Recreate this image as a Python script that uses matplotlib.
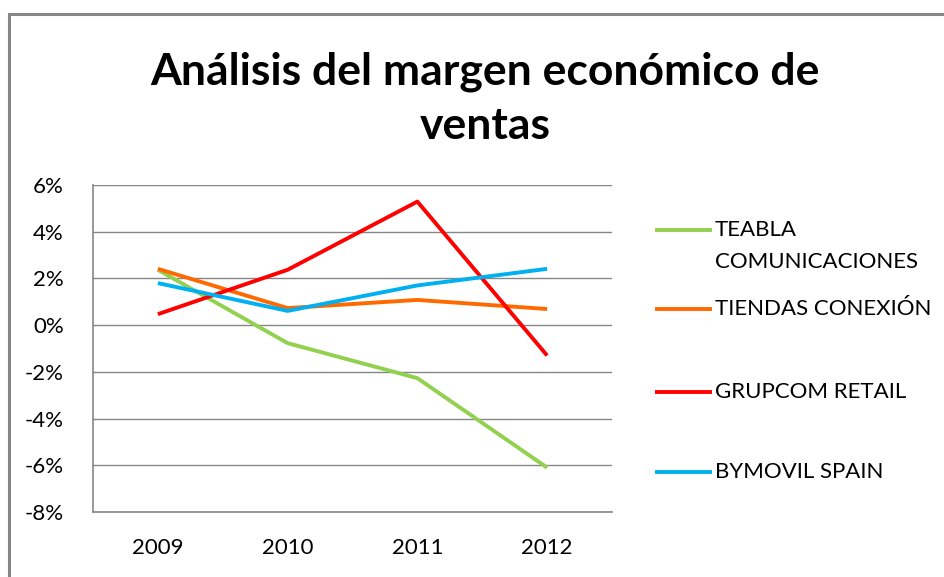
import matplotlib
matplotlib.use("Agg")
import matplotlib.pyplot as plt
from matplotlib.lines import Line2D
from matplotlib.patches import Rectangle
from matplotlib.ticker import FuncFormatter, MultipleLocator

years = ["2009", "2010", "2011", "2012"]
series_names = ["TEABLA\nCOMUNICACIONES", "TIENDAS CONEXIÓN", "GRUPCOM RETAIL", "BYMOVIL SPAIN"]
teabla = [2.37, -0.77, -2.27, -6.10]
tiendas = [2.41, 0.73, 1.08, 0.69]
grupcom = [0.47, 2.37, 5.29, -1.30]
bymovil = [1.80, 0.61, 1.70, 2.41]
colors = ["#92D050", "#FF6A00", "#FF0000", "#00B0F0"]

plt.rcParams['font.family'] = ['Lato', 'DejaVu Sans']

W, H = 944, 577
fig = plt.figure(figsize=(W/100, H/100), dpi=100)
fig.patch.set_facecolor("white")

# outer chart border
fig.add_artist(Rectangle((9/W, -0.02), 1.0, 1 - 14/H + 0.02, transform=fig.transFigure,
                         fill=False, edgecolor="#868686", linewidth=2.2))

ax = fig.add_axes([93/W, 1 - 512/H, 519/W, (512 - 185)/H])
x = list(range(len(years)))
for vals, c in zip([teabla, tiendas, grupcom, bymovil], colors):
    ax.plot(x, vals, color=c, linewidth=2.8, solid_capstyle="butt")

ax.set_xlim(-0.5, 3.5)
ax.set_ylim(-8, 6)
ax.yaxis.set_major_locator(MultipleLocator(2))
ax.yaxis.set_major_formatter(FuncFormatter(lambda v, p: f"{int(round(v))}%"))
ax.set_xticks(x)
ax.set_xticklabels(years)
ax.grid(axis="y", color="#868686", linewidth=1)
ax.set_axisbelow(True)
for s in ["top", "right"]:
    ax.spines[s].set_visible(False)
for s in ["left", "bottom"]:
    ax.spines[s].set_color("#868686")
    ax.spines[s].set_linewidth(1.2)
ax.tick_params(axis="both", length=0, labelsize=16, colors="black")
ax.tick_params(axis="y", pad=21)
ax.tick_params(axis="x", pad=19)

title_lines = ["Análisis del margen económico de", "ventas"]
for ln, base in zip(title_lines, [84, 139]):
    fig.text(485/W, 1 - base/H, ln, ha="center", va="baseline",
             fontsize=32, fontweight="bold")

# legend drawn manually
leg_y = [230, 309, 392, 472]
for name, c, yy in zip(series_names, colors, leg_y):
    yf = 1 - yy/H
    fig.add_artist(Line2D([657/W, 710/W], [yf, yf], transform=fig.transFigure,
                          color=c, linewidth=2.8))
    for i, ln in enumerate(name.split("\n")):
        fig.text(715/W, 1 - (yy + 32*i)/H, ln, ha="left", va="center", fontsize=16)

fig.savefig("out.png", dpi=100)
